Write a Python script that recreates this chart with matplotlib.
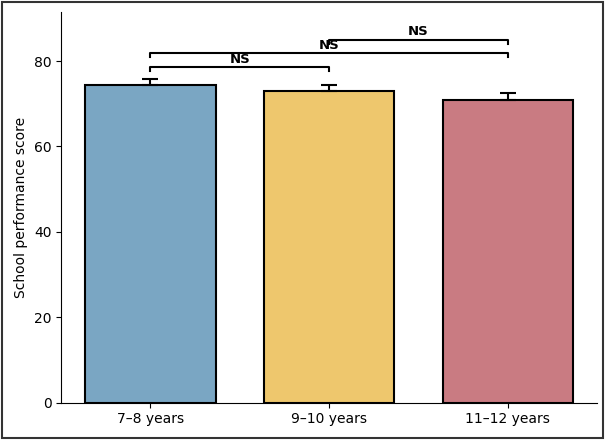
import matplotlib
matplotlib.use("Agg")
import matplotlib.pyplot as plt
from matplotlib.patches import Rectangle

# data
groups = ["7–8 years", "9–10 years", "11–12 years"]
means = [74.4, 73.0, 70.8]
errors = [1.4, 1.4, 1.7]
colors = ["#7aa6c3", "#eec76d", "#c97b82"]

# pairwise comparisons: (i, j, bracket height, label)
comparisons = [
    (0, 1, 78.6, "NS"),
    (0, 2, 81.9, "NS"),
    (1, 2, 85.0, "NS"),
]

fig = plt.figure(figsize=(6.05, 4.41), dpi=100)
ax = fig.add_axes([0.101, 0.087, 0.886, 0.886])

x = range(len(groups))
# only the upper half of the error bar is shown
ax.bar(x, means, width=0.73, color=colors, edgecolor="black", linewidth=1.5,
       yerr=[[0] * len(errors), errors], capsize=6,
       error_kw={"elinewidth": 1.5, "capthick": 1.5, "ecolor": "black"})

for i, j, h, label in comparisons:
    tick = 1.0
    ax.plot([i, i, j, j], [h - tick, h, h, h - tick], color="black", linewidth=1.5)
    ax.text((i + j) / 2, h + 0.3, label, ha="center", va="bottom",
            fontsize=9.5, fontweight="bold")

ax.set_xlim(-0.5, 2.5)
ax.set_ylim(0, 91.5)
ax.set_yticks([0, 20, 40, 60, 80])
ax.set_xticks(list(x))
ax.set_xticklabels(groups, fontsize=10)
ax.tick_params(axis="y", labelsize=10)
ax.set_ylabel("School performance score", fontsize=10)
ax.spines["top"].set_visible(False)
ax.spines["right"].set_visible(False)

# frame around the whole figure
fig.patches.append(Rectangle((0.004, 0.006), 0.992, 0.99, transform=fig.transFigure,
                             fill=False, edgecolor="#333333", linewidth=1.5))

fig.savefig("out.png", dpi=100)
